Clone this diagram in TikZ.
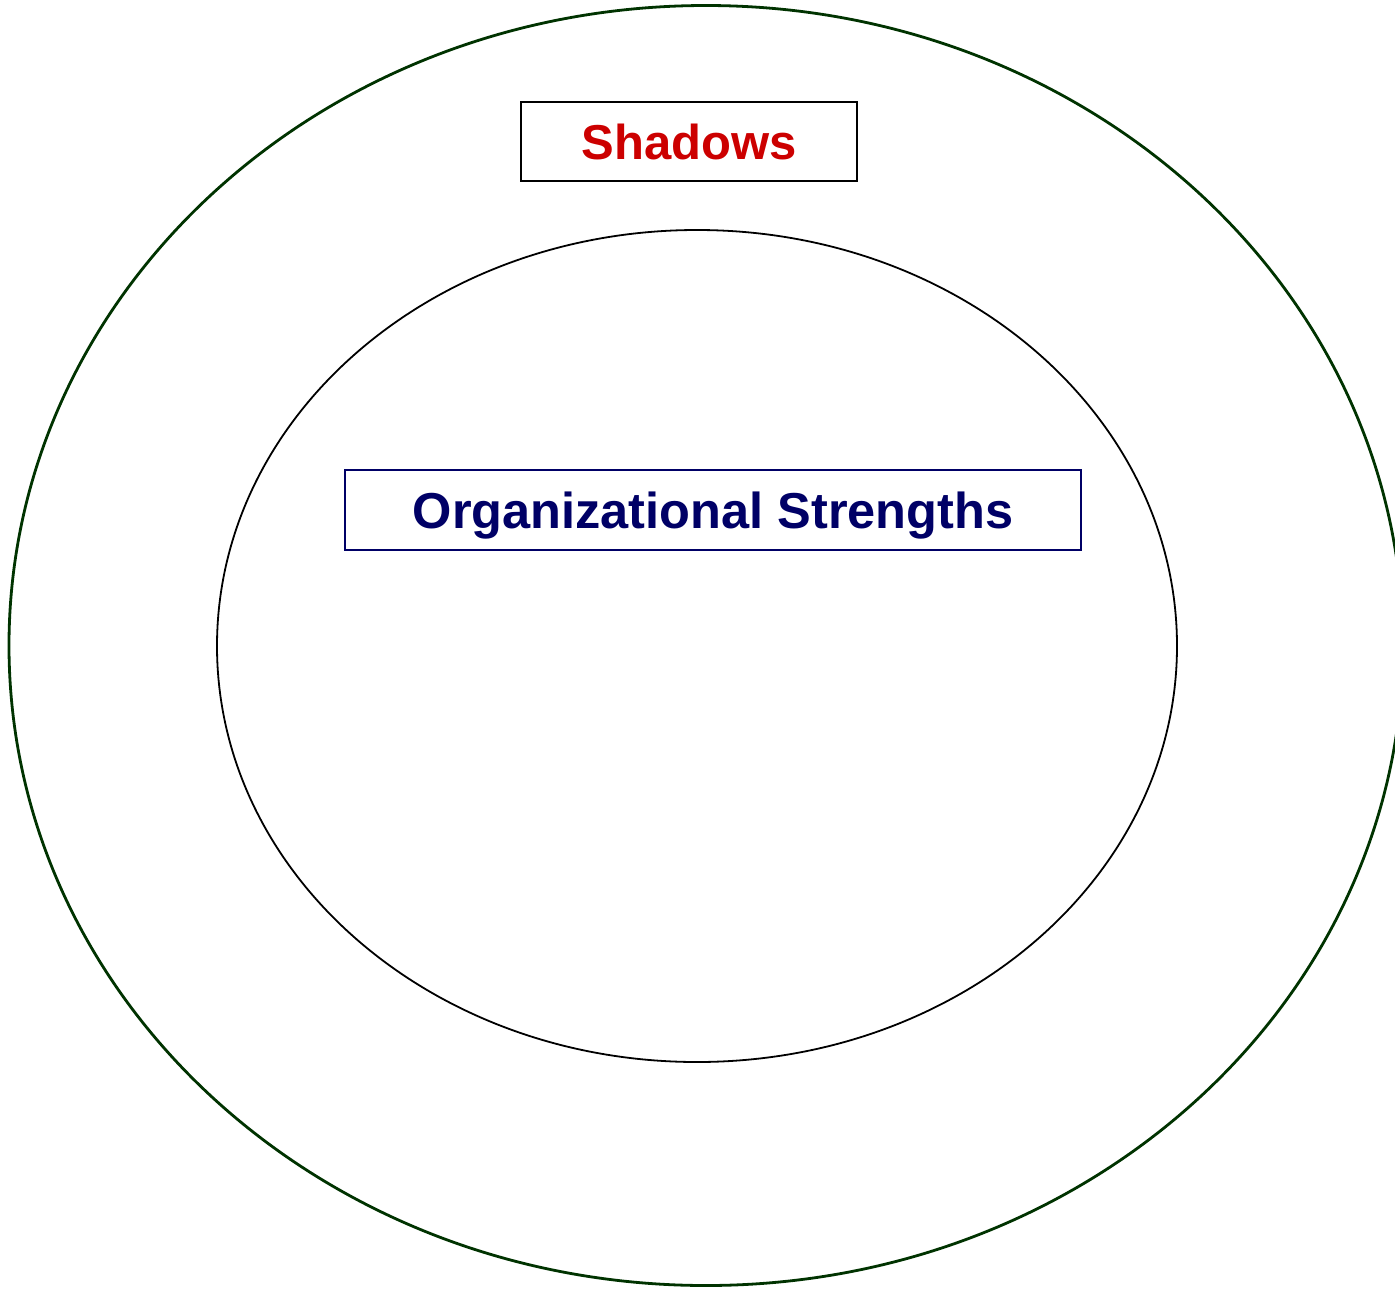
\documentclass[tikz,border=0pt]{standalone}
\usepackage{fontspec}
\setmainfont{Liberation Sans}
\usetikzlibrary{shapes.geometric}
\definecolor{ringgreen}{HTML}{003300}
\definecolor{shadred}{HTML}{CC0000}
\definecolor{navy}{HTML}{000066}
\tikzset{
  labelbox/.style={draw, rectangle, inner sep=0pt, line width=2.6pt},
}
\begin{document}
\begin{tikzpicture}[x=1pt,y=-1pt]
\useasboundingbox (0,0) rectangle (1395,1291);
\node[draw=ringgreen, line width=2.8pt, ellipse, minimum width=1394pt, minimum height=1280pt, inner sep=0pt] (outer) at (706,645.5) {};
\node[draw=black, line width=1.8pt, ellipse, minimum width=960pt, minimum height=832pt, inner sep=0pt] (inner) at (697,646) {};
\node[labelbox, draw=black, minimum width=336pt, minimum height=79pt, text=shadred, text depth=0pt, font=\fontsize{49}{55}\selectfont\bfseries] (shadows) at (689,141.5) {Shadows};
\node[labelbox, draw=navy, minimum width=736pt, minimum height=80pt, text=navy, text depth=0pt, font=\fontsize{50.5}{56}\selectfont\bfseries] (strengths) at (713,510) {Organizational Strengths};
\end{tikzpicture}
\end{document}
